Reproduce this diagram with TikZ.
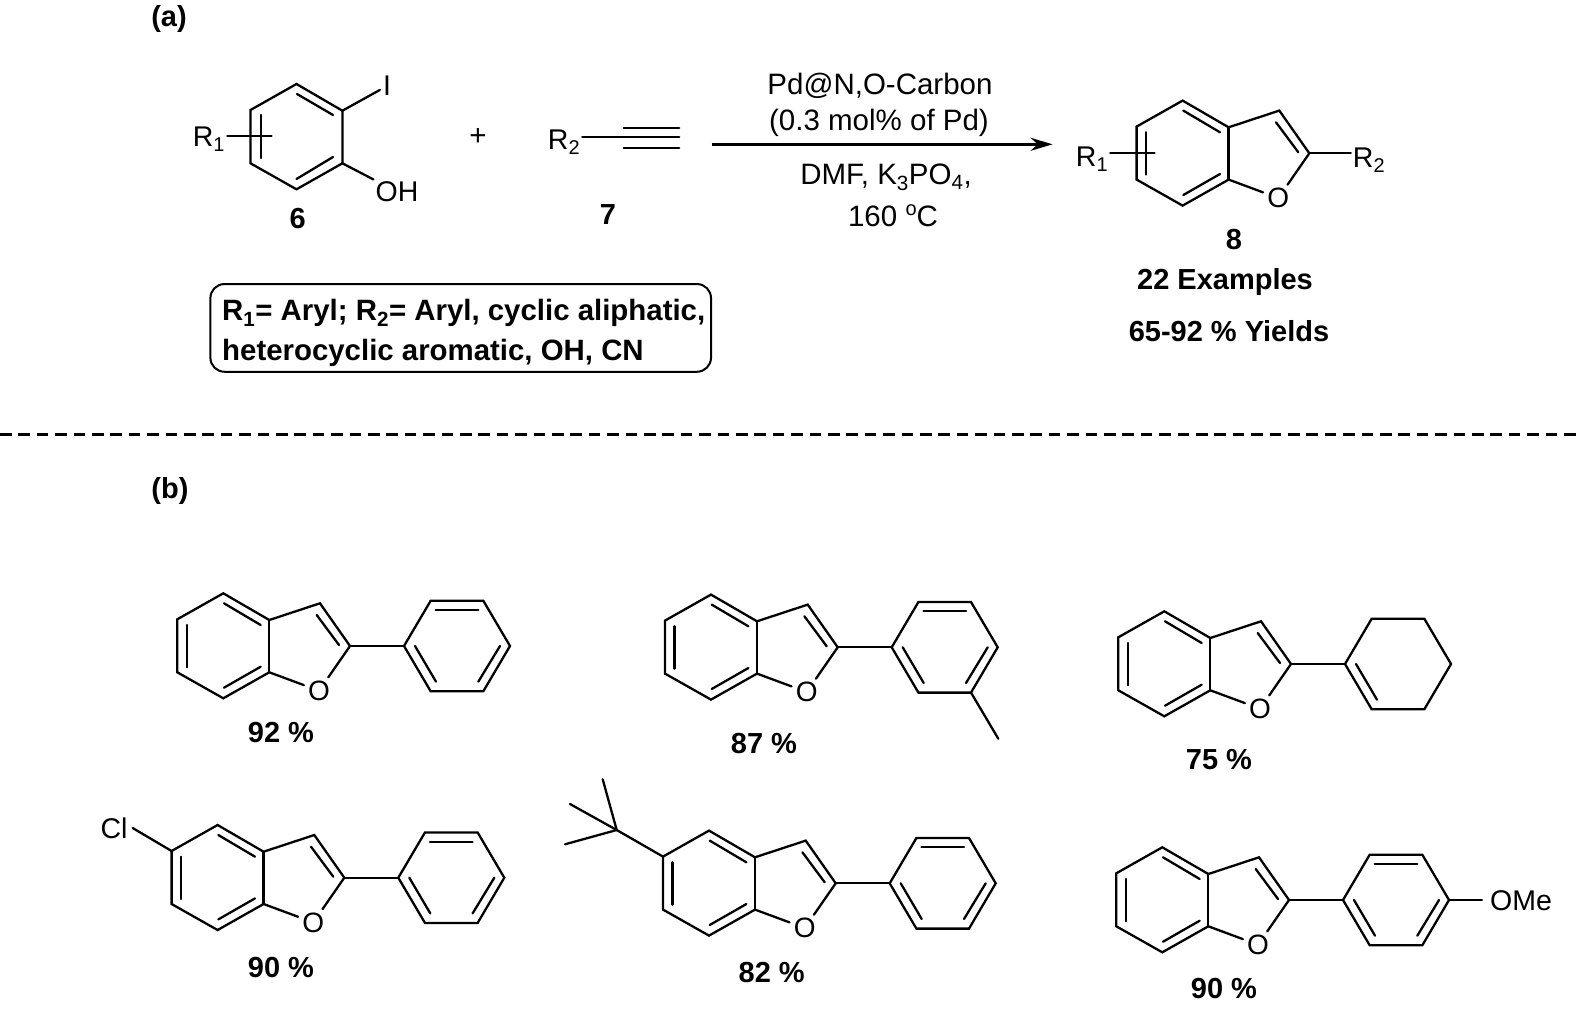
\documentclass[tikz,border=0pt]{standalone}
\usepackage{fontspec}
\setmainfont{Liberation Sans}
\usetikzlibrary{arrows.meta}

\tikzset{
	bond/.style={line width=2.3pt, line cap=round, line join=miter},
	atomlabel/.style={inner sep=2pt, font=\fontsize{28.5}{30}\selectfont},
	ringoxygen/.style={circle, inner sep=0pt, minimum size=32pt, font=\fontsize{28}{30}\selectfont},
	normaltext/.style={inner sep=0pt, font=\fontsize{29.5}{34}\selectfont},
	boldtext/.style={inner sep=0pt, font=\fontsize{29}{34}\selectfont\bfseries},
}

% benzofuran with its C2 at (#2,#3)
\newcommand{\benzofuran}[3]{
	\begin{scope}[shift={(#2,#3)}]
		\coordinate (#1c2) at (0,0);
		\coordinate (#1c3) at (-30,-42.7);
		\coordinate (#1c3a) at (-80.7,-26);
		\coordinate (#1c4) at (-126.7,-52.7);
		\coordinate (#1c5) at (-172.7,-26.7);
		\coordinate (#1c6) at (-172.7,26.3);
		\coordinate (#1c7) at (-126.7,52.3);
		\coordinate (#1c7a) at (-80.7,26.3);
		\node[ringoxygen] (#1o) at (-31,44.7) {O};
		\draw[bond] (#1o) -- (#1c7a) -- (#1c7) -- (#1c6) -- (#1c5) -- (#1c4) -- (#1c3a) -- (#1c3) -- (#1c2) -- (#1o);
		\draw[bond] (#1c3a) -- (#1c7a);
		\draw[bond] (-163.3,-21) -- (-163.3,21.3);
		\draw[bond] (-126,-42.7) -- (-89.3,-21);
		\draw[bond] (-126,41.7) -- (-89.3,20.7);
		\draw[bond] (-33.3,-31) -- (-11,-1);
	\end{scope}
}

% six membered ring hanging on the C2 at (#2,#3)
\newcommand{\sidering}[3]{
	\begin{scope}[shift={(#2,#3)}]
		\coordinate (#1p1) at (54,0);
		\coordinate (#1p2) at (80.7,-45.3);
		\coordinate (#1p3) at (133.3,-45.3);
		\coordinate (#1p4) at (160,0);
		\coordinate (#1p5) at (133.3,45.3);
		\coordinate (#1p6) at (80.7,45.3);
		\draw[bond] (#1c2) -- (#1p1);
		\draw[bond] (#1p1) -- (#1p2) -- (#1p3) -- (#1p4) -- (#1p5) -- (#1p6) -- cycle;
		\draw[bond] (65,0) -- (86,35.7);
	\end{scope}
}

% the two other double bonds of a phenyl
\newcommand{\phenylbonds}[2]{
	\begin{scope}[shift={(#1,#2)}]
		\draw[bond] (85.7,-36) -- (128.3,-36);
		\draw[bond] (150,0) -- (128.3,35.7);
	\end{scope}
}

\begin{document}
\begin{tikzpicture}[x=1pt, y=-1pt]
	\useasboundingbox (0,0) rectangle (1576,1009);

	\node[boldtext] (parta) at (169,19) {(a)};
	\node[boldtext] (partb) at (170,491) {(b)};

	% iodophenol 6
	\coordinate (ia) at (296.5,84);
	\coordinate (ib) at (342.4,110.7);
	\coordinate (ic) at (342.4,163.3);
	\coordinate (id) at (296.5,189.3);
	\coordinate (ie) at (250.5,163.3);
	\coordinate (if) at (250.5,110);
	\draw[bond] (ia) -- (ib) -- (ic) -- (id) -- (ie) -- (if) -- cycle;
	\draw[bond] (297,94) -- (333,115);
	\draw[bond] (261,115) -- (261,158);
	\draw[bond] (296.5,179) -- (333,157);
	\node[atomlabel, inner sep=3pt] (iodo) at (387,86) {I};
	\node[atomlabel] (oh) at (397,191.7) {OH};
	\draw[bond] (ib) -- (iodo);
	\draw[bond] (ic) -- (oh);
	\node[atomlabel] (ra) at (209,139) {R\textsubscript{1}};
	\coordinate (raend) at (271.6,135.7);
	\draw[bond] (ra.east |- raend) -- (raend);
	\node[boldtext] (six) at (297.6,219) {6};

	\node[normaltext] (plus) at (478,137) {+};

	% alkyne 7
	\node[atomlabel] (rb) at (564,142) {R\textsubscript{2}};
	\coordinate (alka) at (623.7,137.3);
	\coordinate (alkb) at (679.2,137.3);
	\draw[bond] (rb.east |- alka) -- (alka) -- (alkb);
	\draw[bond] (623.7,127.7) -- (679.2,127.7);
	\draw[bond] (623.7,147.7) -- (679.2,147.7);
	\node[boldtext] (seven) at (608,215) {7};

	% conditions
	\coordinate (arrowa) at (711.5,144.3);
	\coordinate (arrowb) at (1052.6,144.3);
	\draw[line width=2.4pt, -{Stealth[length=22pt, width=13pt]}] (arrowa) -- (arrowb);
	\node[normaltext] (catalyst) at (880,86) {Pd@N,O-Carbon};
	\node[normaltext] (loading) at (879,123) {(0.3 mol\% of Pd)};
	\node[normaltext] (solvent) at (886,177) {DMF, K\textsubscript{3}PO\textsubscript{4},};
	\node[normaltext] (temp) at (893,216) {160 \raisebox{11pt}{\fontsize{20}{20}\selectfont o}C};

	% product 8
	\benzofuran{m}{1309.3}{153.3}
	\node[atomlabel] (rc) at (1092,159) {R\textsubscript{1}};
	\coordinate (rcend) at (1154.5,153.3);
	\draw[bond] (rc.east |- rcend) -- (rcend);
	\node[atomlabel] (rd) at (1369,160) {R\textsubscript{2}};
	\draw[bond] (mc2) -- (rd.west |- mc2);
	\node[boldtext] (eight) at (1234,240) {8};
	\node[boldtext] (examples) at (1225,282) {22 Examples};
	\node[boldtext] (yields) at (1229,331) {65-92 \% Yields};

	\node[draw, line width=2pt, rounded corners=14pt, minimum width=500.6pt, minimum height=87.7pt] (scopebox) at (460.7,327.9) {};
	\node[boldtext, anchor=west, align=left, font=\fontsize{29.4}{40}\selectfont\bfseries] (scopetext) at (222,333) {R\textsubscript{1}= Aryl; R\textsubscript{2}= Aryl, cyclic aliphatic,\\heterocyclic aromatic, OH, CN};

	\coordinate (sepa) at (0,434.3);
	\coordinate (sepb) at (1576,434.3);
	\draw[line width=2.4pt, dash pattern=on 11.5pt off 6.9pt] (sepa) -- (sepb);

	% scope of the reaction
	\benzofuran{a}{350}{646}
	\sidering{a}{350}{646}
	\phenylbonds{350}{646}
	\node[boldtext] (yielda) at (281,732.7) {92 \%};

	\benzofuran{b}{837.7}{647.3}
	\sidering{b}{837.7}{647.3}
	\phenylbonds{837.7}{647.3}
	\coordinate (methyl) at (998.3,738.7);
	\draw[bond] (bp5) -- (methyl);
	\node[boldtext] (yieldb) at (764,744) {87 \%};

	\benzofuran{c}{1291}{664}
	\sidering{c}{1291}{664}
	\node[boldtext] (yieldc) at (1219,760) {75 \%};

	\benzofuran{d}{344.3}{877.7}
	\sidering{d}{344.3}{877.7}
	\phenylbonds{344.3}{877.7}
	\node[atomlabel, inner sep=5pt] (cl) at (114,828) {Cl};
	\draw[bond] (dc5) -- (cl.east);
	\node[boldtext] (yieldd) at (281,968) {90 \%};

	\benzofuran{e}{835.7}{883.3}
	\sidering{e}{835.7}{883.3}
	\phenylbonds{835.7}{883.3}
	\coordinate (tbu) at (616.7,830);
	\coordinate (mea) at (602.7,779.3);
	\coordinate (meb) at (570,804);
	\coordinate (mec) at (565,844.3);
	\draw[bond] (ec5) -- (tbu);
	\draw[bond] (tbu) -- (mea);
	\draw[bond] (tbu) -- (meb);
	\draw[bond] (tbu) -- (mec);
	\node[boldtext] (yielde) at (771.7,972.7) {82 \%};

	\benzofuran{f}{1289}{900}
	\sidering{f}{1289}{900}
	\phenylbonds{1289}{900}
	\node[atomlabel, inner sep=8pt] (ome) at (1521,901) {OMe};
	\draw[bond] (fp4) -- (ome.west |- fp4);
	\node[boldtext] (yieldf) at (1224,989) {90 \%};
\end{tikzpicture}
\end{document}
